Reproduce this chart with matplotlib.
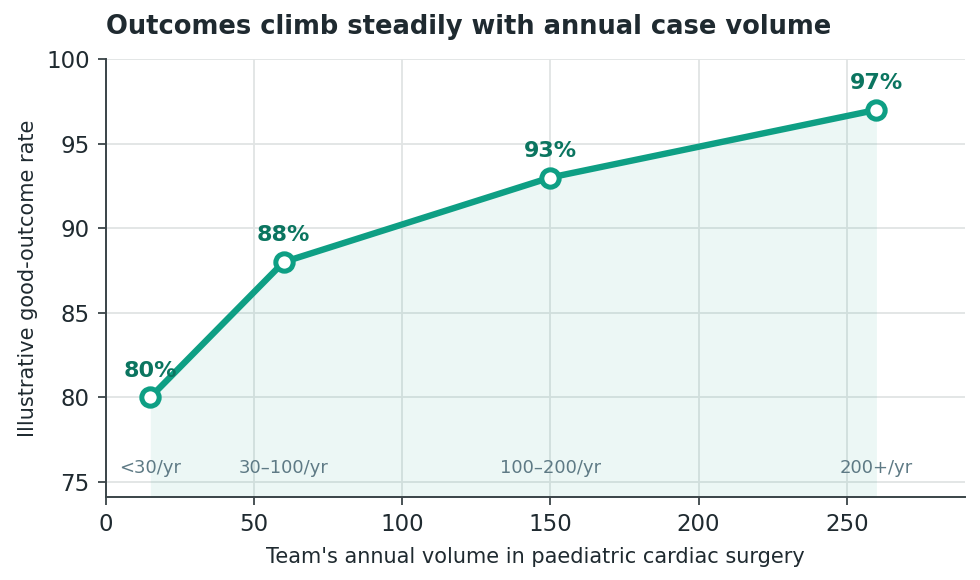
import matplotlib
matplotlib.use("Agg")
import matplotlib.pyplot as plt

volume = [15, 60, 150, 260]
rate = [80, 88, 93, 97]
bands = ["<30/yr", "30–100/yr", "100–200/yr", "200+/yr"]

line_col = "#0e9f84"
lab_col = "#0b7560"
dark = "#1f2a30"

fig, ax = plt.subplots(figsize=(9.8, 5.8), dpi=100)
fig.subplots_adjust(left=0.108, right=0.985, top=0.898, bottom=0.143)

ax.fill_between(volume, rate, 74, color=line_col, alpha=0.08, linewidth=0)
ax.plot(volume, rate, color=line_col, linewidth=4.6, marker="o", markersize=12.5,
        markerfacecolor="white", markeredgecolor=line_col, markeredgewidth=3.6, zorder=3)

for x, y in zip(volume, rate):
    ax.annotate(f"{y}%", (x, y), xytext=(0, 12), textcoords="offset points",
                ha="center", va="bottom", fontsize=16, fontweight="bold", color=lab_col)

for x, b in zip(volume, bands):
    ax.text(x, 75.8, b, ha="center", va="center", fontsize=13, color="#5e7a85")

ax.set_xlim(0, 290)
ax.set_ylim(74.1, 100)
ax.set_yticks([75, 80, 85, 90, 95, 100])
ax.set_xticks([0, 50, 100, 150, 200, 250])
ax.grid(True, color="#e1e4e4", linewidth=1.3)
ax.set_axisbelow(True)
for s in ["top", "right"]:
    ax.spines[s].set_visible(False)
for s in ["left", "bottom"]:
    ax.spines[s].set_color("#3a4448")
    ax.spines[s].set_linewidth(1.4)
ax.tick_params(labelsize=16.5, colors="#3a4448", labelcolor=dark, length=5.5, width=1.3, pad=6)

ax.set_xlabel("Team's annual volume in paediatric cardiac surgery", fontsize=15, color=dark, labelpad=8)
ax.set_ylabel("Illustrative good-outcome rate", fontsize=15, color=dark, labelpad=6)
ax.set_title("Outcomes climb steadily with annual case volume", loc="left",
             fontsize=18.5, fontweight="bold", color=dark, pad=18)

fig.savefig("out.png")
